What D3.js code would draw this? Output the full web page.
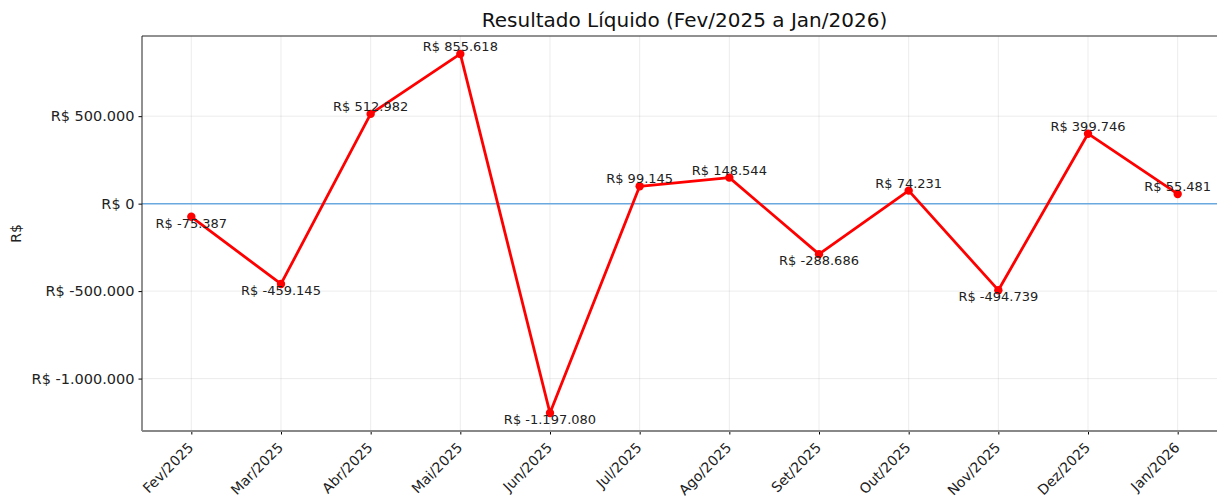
<!DOCTYPE html>
<html lang="pt-BR">
<head>
<meta charset="UTF-8">
<title>Resultado Líquido (Fev/2025 a Jan/2026)</title>
<script src="https://d3js.org/d3.v7.min.js"></script>
<style>
  body { margin: 0; background: #fff; font-family: "DejaVu Sans", sans-serif; }
  svg { display: block; }
</style>
</head>
<body>
<script>
// Data
const months = ["Fev/2025", "Mar/2025", "Abr/2025", "Mai/2025", "Jun/2025", "Jul/2025",
                "Ago/2025", "Set/2025", "Out/2025", "Nov/2025", "Dez/2025", "Jan/2026"];
const resultado = [-75387, -459145, 512982, 855618, -1197080, 99145,
                   148544, -288686, 74231, -494739, 399746, 55481];
const yTicks = [-1000000, -500000, 0, 500000];

const W = 1217, H = 498;
// plot area (right edge runs past the canvas, like the reference)
const margin = { left: 142, top: 36, right: 1227, bottom: 431 };

const svg = d3.select("body").append("svg")
    .attr("width", W)
    .attr("height", H)
    .style("font-family", "'DejaVu Sans', sans-serif");

const br = d3.formatLocale({ decimal: ",", thousands: ".", grouping: [3], currency: ["R$ ", ""], minus: "-" });
const fmt = br.format(",.0f");
const money = v => "R$ " + fmt(v);

const lo = d3.min(resultado), hi = d3.max(resultado);
const pad = (hi - lo) * 0.05;

const x = d3.scaleLinear()
    .domain([-0.55, months.length - 1 + 0.55])
    .range([margin.left, margin.right]);

const y = d3.scaleLinear()
    .domain([lo - pad, hi + pad])
    .range([margin.bottom, margin.top]);

// grid
const grid = svg.append("g").attr("stroke", "#b0b0b0").attr("stroke-opacity", 0.3).attr("stroke-width", 0.8);
grid.selectAll(".gx").data(months).join("line")
    .attr("x1", (d, i) => x(i)).attr("x2", (d, i) => x(i))
    .attr("y1", margin.top).attr("y2", margin.bottom);
grid.selectAll(".gy").data(yTicks.filter(t => t !== 0)).join("line")
    .attr("x1", margin.left).attr("x2", margin.right)
    .attr("y1", d => y(d)).attr("y2", d => y(d));

// zero line
svg.append("line")
    .attr("x1", margin.left).attr("x2", margin.right)
    .attr("y1", y(0)).attr("y2", y(0))
    .attr("stroke", "#6aa8e0")
    .attr("stroke-width", 1.5);

// axes
const yAxis = svg.append("g")
    .attr("transform", `translate(${margin.left},0)`)
    .call(d3.axisLeft(y).tickValues(yTicks).tickFormat(money).tickSizeOuter(0).tickSize(3.5).tickPadding(4));
yAxis.select(".domain").remove();
yAxis.selectAll("text").style("font-size", "14.5px").style("font-family", "'DejaVu Sans', sans-serif").attr("fill", "#222");

const xAxis = svg.append("g")
    .attr("transform", `translate(0,${margin.bottom})`)
    .call(d3.axisBottom(x).tickValues(d3.range(months.length)).tickFormat(i => months[i]).tickSizeOuter(0).tickSize(3.5));
xAxis.select(".domain").remove();
xAxis.selectAll("text")
    .style("font-size", "14px")
    .style("font-family", "'DejaVu Sans', sans-serif")
    .attr("fill", "#222")
    .style("text-anchor", "end")
    .attr("x", 0)
    .attr("y", 0)
    .attr("dy", "0.35em")
    .attr("transform", "translate(-1,14) rotate(-45)");

// spines
const spines = svg.append("g").attr("stroke", "#222").attr("stroke-width", 1);
spines.append("line").attr("x1", margin.left).attr("x2", margin.left).attr("y1", margin.top).attr("y2", margin.bottom);
spines.append("line").attr("x1", margin.left).attr("x2", margin.right).attr("y1", margin.top).attr("y2", margin.top);
spines.append("line").attr("x1", margin.left).attr("x2", margin.right).attr("y1", margin.bottom).attr("y2", margin.bottom)
    .attr("stroke", "#888").attr("stroke-width", 2);

// line
svg.append("path")
    .datum(resultado)
    .attr("fill", "none")
    .attr("stroke", "#ff0000")
    .attr("stroke-width", 2.8)
    .attr("stroke-linejoin", "round")
    .attr("d", d3.line().x((d, i) => x(i)).y(d => y(d)));

svg.selectAll(".pt").data(resultado).join("circle")
    .attr("cx", (d, i) => x(i))
    .attr("cy", d => y(d))
    .attr("r", 4.2)
    .attr("fill", "#ff0000");

// value labels
svg.selectAll(".lbl").data(resultado).join("text")
    .attr("x", (d, i) => x(i))
    .attr("y", d => d >= 0 ? y(d) - 3 : y(d) + 11)
    .attr("text-anchor", "middle")
    .style("font-size", "13px")
    .attr("fill", "#222")
    .text(d => money(d));

// title
svg.append("text")
    .attr("x", (margin.left + margin.right) / 2)
    .attr("y", 27)
    .attr("text-anchor", "middle")
    .style("font-size", "20px")
    .attr("fill", "#111")
    .text("Resultado Líquido (Fev/2025 a Jan/2026)");

// y label
svg.append("text")
    .attr("transform", `translate(21,${(margin.top + margin.bottom) / 2}) rotate(-90)`)
    .attr("text-anchor", "middle")
    .style("font-size", "14px")
    .attr("fill", "#222")
    .text("R$");
</script>
</body>
</html>
